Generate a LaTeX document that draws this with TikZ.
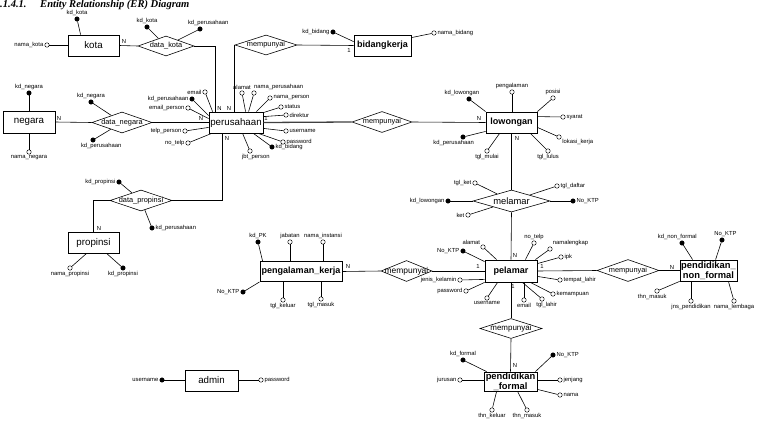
\documentclass[tikz,border=0pt]{standalone}
\usepackage{fontspec}
\setmainfont{Liberation Sans}
\newfontfamily\titlefont{Liberation Serif}
\usetikzlibrary{shapes.geometric,calc}
\tikzset{
 ent/.style={draw, line width=0.7pt, rectangle, inner sep=0pt, align=center, font=\fontsize{8.3}{9}\selectfont},
 entb/.style={draw, line width=0.7pt, rectangle, inner sep=0pt, align=center, font=\fontsize{7.7}{8.2}\selectfont\bfseries},
 rel/.style={draw, line width=0.5pt, diamond, inner sep=0pt},
 reltext/.style={font=\fontsize{6.3}{7}\selectfont, inner sep=0pt},
 keyatt/.style={circle, draw, fill=black, minimum size=3.8pt, inner sep=0pt, line width=0.4pt},
 att/.style={circle, draw, fill=white, minimum size=3.8pt, inner sep=0pt, line width=0.4pt},
 lab/.style={font=\fontsize{5}{5}\selectfont, inner sep=0.8pt},
 card/.style={font=\fontsize{5}{5}\selectfont, inner sep=0pt},
 conn/.style={line width=0.5pt},
 ttl/.style={anchor=base west, inner sep=0pt, font=\titlefont\fontsize{9}{10}\selectfont\bfseries\itshape},
}
\begin{document}
\begin{tikzpicture}[x=0.03cm,y=-0.03cm]
\fill[white] (0,0) rectangle (764,421);
\useasboundingbox (0,0) rectangle (764,421);

% title
\node[ttl] (tnum) at (0,7.5) {.1.4.1.};
\node[ttl] (ttext) at (40,7.5) {Entity Relationship (ER) Diagram};

% entities
\node[ent, minimum width=1.53cm, minimum height=0.63cm] (kota) at (93.5,45.5) {kota};
\node[ent, minimum width=1.56cm, minimum height=0.66cm] (negara) at (29,122) {negara};
\node[ent, minimum width=1.62cm, minimum height=0.63cm] (pr) at (236,122.5) {perusahaan};
\node[entb, minimum width=1.71cm, minimum height=0.63cm] (bk) at (382.5,45.5) {bidangkerja};
\node[entb, minimum width=1.53cm, minimum height=0.63cm] (lw) at (511.5,122.5) {lowongan};
\node[ent, minimum width=1.53cm, minimum height=0.63cm] (pv) at (93.5,242.5) {propinsi};
\node[entb, minimum width=2.46cm, minimum height=0.6cm] (pk) at (301,271.5) {pengalaman\_kerja};
\node[entb, minimum width=1.56cm, minimum height=0.66cm] (pl) at (511,271) {pelamar};
\node[entb, minimum width=1.71cm, minimum height=0.63cm, font=\fontsize{8}{8.3}\selectfont\bfseries] (nf) at (708.5,270.5) {pendidikan\_\\non\_formal};
\node[entb, minimum width=1.59cm, minimum height=0.57cm, font=\fontsize{8}{8.3}\selectfont\bfseries] (fm) at (510.5,381.5) {pendidikan\\\_formal};
\node[ent, minimum width=1.59cm, minimum height=0.63cm] (ad) at (211.5,380.5) {admin};

% relationships
\node[rel, minimum width=1.68cm, minimum height=0.6cm, label={[reltext]center:data\_kota}] (dk) at (166,46) {};
\node[rel, minimum width=1.86cm, minimum height=0.6cm, label={[reltext]center:mempunyai}] (mp1) at (266,45) {};
\node[rel, minimum width=1.8cm, minimum height=0.63cm, label={[reltext]center:data\_negara}] (dn) at (122,122.5) {};
\node[rel, minimum width=1.8cm, minimum height=0.63cm, label={[reltext]center:mempunyai}] (mp2) at (382,122) {};
\node[rel, minimum width=1.86cm, minimum height=0.63cm, label={[reltext]center:data\_propinsi}] (dp) at (141,200.5) {};
\node[rel, minimum width=2.31cm, minimum height=0.66cm, label={[reltext,font=\fontsize{8}{9}\selectfont]center:melamar}] (ml) at (511.5,201) {};
\node[rel, minimum width=1.53cm, minimum height=0.63cm, label={[reltext,font=\fontsize{7.2}{8}\selectfont]center:mempunyai}] (mp3) at (406.5,271) {};
\node[rel, minimum width=1.86cm, minimum height=0.66cm, label={[reltext]center:mempunyai}] (mp4) at (628,270.5) {};
\node[rel, minimum width=1.86cm, minimum height=0.6cm, label={[reltext,font=\fontsize{6.8}{7}\selectfont]center:mempunyai}] (mp5) at (511,328.5) {};

% relationship connectors
\draw[conn] (kota.east) -- (dk.west);
\node[card] (c1) at (124,41) {N};
\draw[conn] (dk.east) -| ($(pr.north west)+(7,0)$);
\node[card] (c2) at (219.5,108) {N};
\draw[conn] (mp1.west) -- (mp1.west |- pr.north);
\node[card] (c3) at (229,108) {N};
\draw[conn] (mp1.east) -- (bk.west);
\node[card] (c4) at (349,50) {1};
\draw[conn] (negara.east) -- (dn.west);
\node[card] (c5) at (59,118) {N};
\draw[conn] (dn.east) -- (pr.west);
\node[card] (c6) at (201,118) {N};
\draw[conn] ($(pr.south west)+(14,0)$) |- (dp.east);
\node[card] (c7) at (227,138) {N};
\draw[conn] (dp.west) -| (pv.north);
\node[card] (c8) at (99,228) {N};
\draw[line width=1.1pt, black!75] (pr.east) -- (mp2.west);
\node[card] (c9) at (266,118) {1};
\draw[conn] (mp2.east) -- (lw.west);
\node[card] (c10) at (479,118) {N};
\draw[conn] (lw.south) -- (ml.north);
\node[card] (c11) at (517,138) {N};
\draw[conn] (ml.south) -- (pl.north);
\node[card] (c12) at (515,255) {N};
\draw[conn] (pk.east) -- (mp3.west);
\node[card] (c13) at (348,266) {N};
\draw[conn] (mp3.east) -- (pl.west);
\node[card] (c14) at (478,266) {1};
\draw[conn] (pl.east) -- (mp4.west);
\node[card] (c15) at (542,266) {1};
\draw[conn] (mp4.east) -- (nf.west);
\node[card] (c16) at (672,267) {N};
\draw[conn] (pl.south) -- (mp5.north);
\node[card] (c17) at (513,286) {1};
\draw[conn] (mp5.south) -- (fm.north);
\node[card] (c18) at (515,365) {N};

% kota
\node[keyatt, label={[lab]above:kd\_kota}] (a1) at (77,19) {};
\draw[conn] (a1) -- ($(kota.north west)+(13,0)$);
\node[att, label={[lab]left:nama\_kota}] (a2) at (47,45) {};
\draw[conn] (a2) -- (a2 -| kota.west);
% data_kota
\node[keyatt, label={[lab]above:kd\_kota}] (a3) at (147,27) {};
\draw[conn] (a3) -- (dk);
\node[keyatt, label={[lab,xshift=7pt]above:kd\_perusahaan}] (a4) at (200,29) {};
\draw[conn] (a4) -- (dk);
% negara
\node[keyatt, label={[lab]above:kd\_negara}] (a5) at (29,93) {};
\draw[conn] (a5) -- (negara);
\node[att, label={[lab]below:nama\_negara}] (a6) at (29,152) {};
\draw[conn] (a6) -- (negara);
% data_negara
\node[keyatt, label={[lab]above:kd\_negara}] (a7) at (91,102) {};
\draw[conn] (a7) -- (dn);
\node[keyatt, label={[lab,xshift=7pt]below:kd\_perusahaan}] (a8) at (93,140) {};
\draw[conn] (a8) -- (dn);
% perusahaan
\node[att, label={[lab]left:email}] (a9) at (205,92) {};
\draw[conn] (a9) -- ($(pr.north west)+(4,0)$);
\node[keyatt, label={[lab]left:kd\_perusahaan}] (a10) at (192,99) {};
\draw[conn] (a10) -- ($(pr.north west)+(0,4)$);
\node[att, label={[lab]left:email\_person}] (a11) at (188,108) {};
\draw[conn] (a11) -- ($(pr.north west)+(0,7)$);
\node[att, label={[lab]left:telp\_person}] (a12) at (185,131) {};
\draw[conn] (a12) -- ($(pr.south west)+(0,-6)$);
\node[att, label={[lab]left:no\_telp}] (a13) at (188,143) {};
\draw[conn] (a13) -- ($(pr.south west)+(3,0)$);
\node[att, label={[lab]above:alamat}] (a14) at (242,93) {};
\draw[conn] (a14) -- ($(pr.north west)+(37,0)$);
\node[att, label={[lab,xshift=21pt]above:nama\_perusahaan}] (a15) at (254,93) {};
\draw[conn] (a15) -- ($(pr.north west)+(40,0)$);
\node[att, label={[lab]right:nama\_person}] (a16) at (270,98) {};
\draw[conn] (a16) -- ($(pr.north east)+(-7,0)$);
\node[att, label={[lab]right:status}] (a17) at (281,107) {};
\draw[conn] (a17) -- ($(pr.north east)+(0,1)$);
\node[att, label={[lab]right:direktur}] (a18) at (286,115) {};
\draw[conn] (a18) -- ($(pr.north east)+(0,5)$);
\node[att, label={[lab]right:username}] (a19) at (286,131) {};
\draw[conn] (a19) -- ($(pr.south east)+(0,-5)$);
\node[att, label={[lab]right:password}] (a20) at (283,142) {};
\draw[conn] (a20) -- ($(pr.south east)+(-5,0)$);
\node[keyatt, label={[lab]right:kd\_bidang}] (a21) at (272,147) {};
\draw[conn] (a21) -- ($(pr.south east)+(-10,0)$);
\node[att, label={[lab,xshift=5pt]below:jbt\_person}] (a22) at (250,151) {};
\draw[conn] (a22) -- ($(pr.south west)+(34,0)$);
% bidangkerja
\node[keyatt, label={[lab]left:kd\_bidang}] (a23) at (333,32) {};
\draw[conn] (a23) -- ($(bk.north west)+(0,7)$);
\node[att, label={[lab]right:nama\_bidang}] (a24) at (434,33) {};
\draw[conn] (a24) -- ($(bk.north east)+(0,3)$);
% lowongan
\node[keyatt, label={[lab,xshift=-6pt]above:kd\_lowongan}] (a25) at (469,99) {};
\draw[conn] (a25) -- (lw.north west);
\node[att, label={[lab]above:pengalaman}] (a26) at (512,92) {};
\draw[conn] (a26) -- (a26 |- lw.north);
\node[att, label={[lab]above:posisi}] (a27) at (553,98) {};
\draw[conn] (a27) -- (lw.north east);
\node[att, label={[lab]right:syarat}] (a28) at (563,117) {};
\draw[conn] (a28) -- ($(lw.north east)+(0,5)$);
\node[att, label={[lab]-30:lokasi\_kerja}] (a29) at (559,137) {};
\draw[conn] (a29) -- ($(lw.south east)+(0,-6)$);
\node[att, label={[lab]below:tgl\_lulus}] (a30) at (548,151) {};
\draw[conn] (a30) -- ($(lw.south east)+(-7,0)$);
\node[att, label={[lab]below:tgl\_mulai}] (a31) at (487,151) {};
\draw[conn] (a31) -- ($(lw.south west)+(14,0)$);
\node[keyatt, label={[lab,xshift=-8pt]below:kd\_perusahaan}] (a32) at (463,137) {};
\draw[conn] (a32) -- ($(lw.south west)+(0,-2)$);
% melamar
\node[att, label={[lab]left:tgl\_ket}] (a33) at (475,183) {};
\draw[conn] (a33) -- (ml);
\node[keyatt, label={[lab]left:kd\_lowongan}] (a34) at (448,201) {};
\draw[conn] (a34) -- (ml);
\node[att, label={[lab]left:ket}] (a35) at (468,215) {};
\draw[conn] (a35) -- (ml);
\node[att, label={[lab]right:tgl\_daftar}] (a36) at (557,186) {};
\draw[conn] (a36) -- (ml);
\node[keyatt, label={[lab]right:No\_KTP}] (a37) at (573,201) {};
\draw[conn] (a37) -- (ml);
% data_propinsi / propinsi
\node[keyatt, label={[lab]left:kd\_propinsi}] (a38) at (119,182) {};
\draw[conn] (a38) -- (dp);
\node[keyatt, label={[lab]right:kd\_perusahaan}] (a39) at (152,228) {};
\draw[conn] (a39) -- (dp);
\node[att, label={[lab]below:nama\_propinsi}] (a40) at (70,268) {};
\draw[conn] (a40) -- ($(pv.south west)+(19,0)$);
\node[keyatt, label={[lab]below:kd\_propinsi}] (a41) at (123,268) {};
\draw[conn] (a41) -- ($(pv.south west)+(39,0)$);
% pengalaman_kerja
\node[keyatt, label={[lab]above:kd\_PK}] (a42) at (258,242) {};
\draw[conn] (a42) -- ($(pk.north west)+(3,0)$);
\node[att, label={[lab]above:jabatan}] (a43) at (290,242) {};
\draw[conn] (a43) -- (a43 |- pk.north);
\node[att, label={[lab]above:nama\_instansi}] (a44) at (323,242) {};
\draw[conn] (a44) -- (a44 |- pk.north);
\node[keyatt, label={[lab]left:No\_KTP}] (a45) at (243,292) {};
\draw[conn] (a45) -- (pk.south west);
\node[att, label={[lab]below:tgl\_keluar}] (a46) at (283,300) {};
\draw[conn] (a46) -- (a46 |- pk.south);
\node[att, label={[lab]below:tgl\_masuk}] (a47) at (321,299) {};
\draw[conn] (a47) -- (a47 |- pk.south);
% pelamar
\node[keyatt, label={[lab]left:No\_KTP}] (a48) at (463,251) {};
\draw[conn] (a48) -- ($(pl.north west)+(0,2)$);
\node[att, label={[lab]135:alamat}] (a49) at (483,247) {};
\draw[conn] (a49) -- ($(pl.north west)+(12,0)$);
\node[att, label={[lab]above:no\_telp}] (a50) at (534,243) {};
\draw[conn] (a50) -- ($(pl.north east)+(-12,0)$);
\node[att, label={[lab]45:namalengkap}] (a51) at (550,249) {};
\draw[conn] (a51) -- ($(pl.north east)+(-2,0)$);
\node[att, label={[lab]right:ipk}] (a52) at (561,257) {};
\draw[conn] (a52) -- ($(pl.north east)+(0,4)$);
\node[att, label={[lab]right:tempat\_lahir}] (a53) at (560,280) {};
\draw[conn] (a53) -- ($(pl.south east)+(0,-6)$);
\node[att, label={[lab]right:kemampuan}] (a54) at (553,294) {};
\draw[conn] (a54) -- ($(pl.south east)+(-7,0)$);
\node[att, label={[lab,xshift=4pt]below:tgl\_lahir}] (a55) at (542,299) {};
\draw[conn] (a55) -- ($(pl.south east)+(-15,0)$);
\node[att, label={[lab]below:email}] (a56) at (524,300) {};
\draw[conn] (a56) -- (a56 |- pl.south);
\node[att, label={[lab]below:username}] (a57) at (487,298) {};
\draw[conn] (a57) -- ($(pl.south west)+(13,0)$);
\node[att, label={[lab]left:password}] (a58) at (466,291) {};
\draw[conn] (a58) -- (pl.south west);
\node[att, label={[lab]left:jenis\_kelamin}] (a59) at (460,280) {};
\draw[conn] (a59) -- ($(pl.south west)+(0,-3)$);
% pendidikan non_formal
\node[keyatt, label={[lab,xshift=-4pt]above:kd\_non\_formal}] (a60) at (682,243) {};
\draw[conn] (a60) -- ($(nf.north west)+(13,0)$);
\node[keyatt, label={[lab,xshift=3pt]above:No\_KTP}] (a61) at (722,240) {};
\draw[conn] (a61) -- ($(nf.north west)+(36,0)$);
\node[att, label={[lab,xshift=-4pt]below:thn\_masuk}] (a62) at (657,291) {};
\draw[conn] (a62) -- (nf.south west);
\node[att, label={[lab]below:jns\_pendidikan}] (a63) at (691,301) {};
\draw[conn] (a63) -- (a63 |- nf.south);
\node[att, label={[lab]below:nama\_lembaga}] (a64) at (734,301) {};
\draw[conn] (a64) -- ($(nf.south east)+(-9,0)$);
% pendidikan_formal
\node[keyatt, label={[lab]above:kd\_formal}] (a65) at (463,360) {};
\draw[conn] (a65) -- ($(fm.north west)+(3,0)$);
\node[keyatt, label={[lab]right:No\_KTP}] (a66) at (553,355) {};
\draw[conn] (a66) -- ($(fm.north east)+(-2,0)$);
\node[att, label={[lab]left:jurusan}] (a67) at (460,380) {};
\draw[conn] (a67) -- (a67 -| fm.west);
\node[att, label={[lab]right:jenjang}] (a68) at (560,380) {};
\draw[conn] (a68) -- (a68 -| fm.east);
\node[att, label={[lab]right:nama}] (a69) at (560,395) {};
\draw[conn] (a69) -- ($(fm.south east)+(0,-2)$);
\node[att, label={[lab]below:thn\_keluar}] (a70) at (492,410) {};
\draw[conn] (a70) -- ($(fm.south west)+(13,0)$);
\node[att, label={[lab]below:thn\_masuk}] (a71) at (527,410) {};
\draw[conn] (a71) -- ($(fm.south west)+(34,0)$);
% admin
\node[keyatt, label={[lab]left:username}] (a72) at (162,380) {};
\draw[conn] (a72) -- (a72 -| ad.west);
\node[att, label={[lab]right:password}] (a73) at (261,380) {};
\draw[conn] (a73) -- (a73 -| ad.east);
\end{tikzpicture}
\end{document}
